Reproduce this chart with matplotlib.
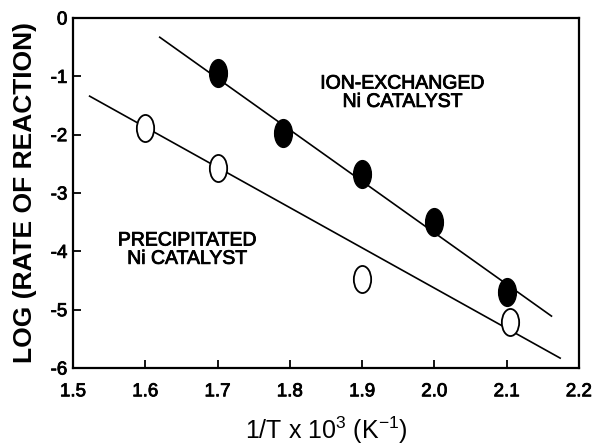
# Arrhenius-type plot: log rate of reaction vs 1/T for two Ni catalysts

import matplotlib.pyplot as plt
import matplotlib.patheffects as pe
from matplotlib.path import Path
from matplotlib.transforms import Affine2D

plt.rcParams['font.family'] = ['Liberation Sans', 'DejaVu Sans']
plt.rcParams['mathtext.fontset'] = 'custom'
plt.rcParams['mathtext.rm'] = 'Liberation Sans'

# measured points
ion_x = [1.70, 1.79, 1.90, 2.00, 2.10]
ion_y = [-0.95, -1.97, -2.68, -3.50, -4.69]
prec_x = [1.60, 1.70, 1.90, 2.105]
prec_y = [-1.88, -2.57, -4.48, -5.21]

# hand-drawn trend lines (end points)
ion_fit_x = [1.62, 2.162]
ion_fit_y = [-0.33, -5.11]
prec_fit_x = [1.523, 2.174]
prec_fit_y = [-1.34, -5.83]

xticks = [1.5, 1.6, 1.7, 1.8, 1.9, 2.0, 2.1, 2.2]
yticks = [0, -1, -2, -3, -4, -5, -6]

# tall ellipse marker
oval = Path.unit_circle().transformed(Affine2D().scale(0.64, 1.0))

# slightly heavier lettering
heavy = [pe.withStroke(linewidth=0.6, foreground='black')]

fig = plt.figure(figsize=(5.95, 4.45), dpi=100)
ax = fig.add_axes([0.1227, 0.173, 0.8503, 0.7866])

ax.plot(ion_fit_x, ion_fit_y, color='black', lw=1.2, zorder=1)
ax.plot(prec_fit_x, prec_fit_y, color='black', lw=1.2, zorder=1)
ax.plot(ion_x, ion_y, linestyle='none', marker=oval, markersize=20,
        markerfacecolor='black', markeredgecolor='black', zorder=3)
ax.plot(prec_x, prec_y, linestyle='none', marker=oval, markersize=19.5,
        markerfacecolor='white', markeredgecolor='black', markeredgewidth=1.3, zorder=3)

ax.text(1.956, -1.29, 'ION-EXCHANGED\nNi CATALYST', ha='center', va='center',
        fontsize=14, linespacing=1.1, path_effects=heavy)
ax.text(1.658, -3.98, 'PRECIPITATED\nNi CATALYST', ha='center', va='center',
        fontsize=14, linespacing=1.1, path_effects=heavy)

ax.set_xlim(1.5, 2.2)
ax.set_ylim(-6, 0)
ax.set_xticks(xticks)
ax.set_xticklabels([f'{v:.1f}' for v in xticks])
ax.set_yticks(yticks)
ax.set_yticklabels([str(v) for v in yticks])
ax.tick_params(direction='in', length=6, width=1.3, labelsize=13.5)
ax.tick_params(axis='x', pad=11)
ax.tick_params(axis='y', pad=4)
for lbl in ax.get_xticklabels() + ax.get_yticklabels():
    lbl.set_path_effects(heavy)

for s in ax.spines.values():
    s.set_linewidth(1.6)

ax.set_xlabel('1/T x 10$^3$ (K$^{-1}$)', fontsize=18, labelpad=10)
ax.set_ylabel('LOG (RATE OF REACTION)', fontsize=19, fontweight='bold', labelpad=10)

plt.savefig('out.png', dpi=100)
